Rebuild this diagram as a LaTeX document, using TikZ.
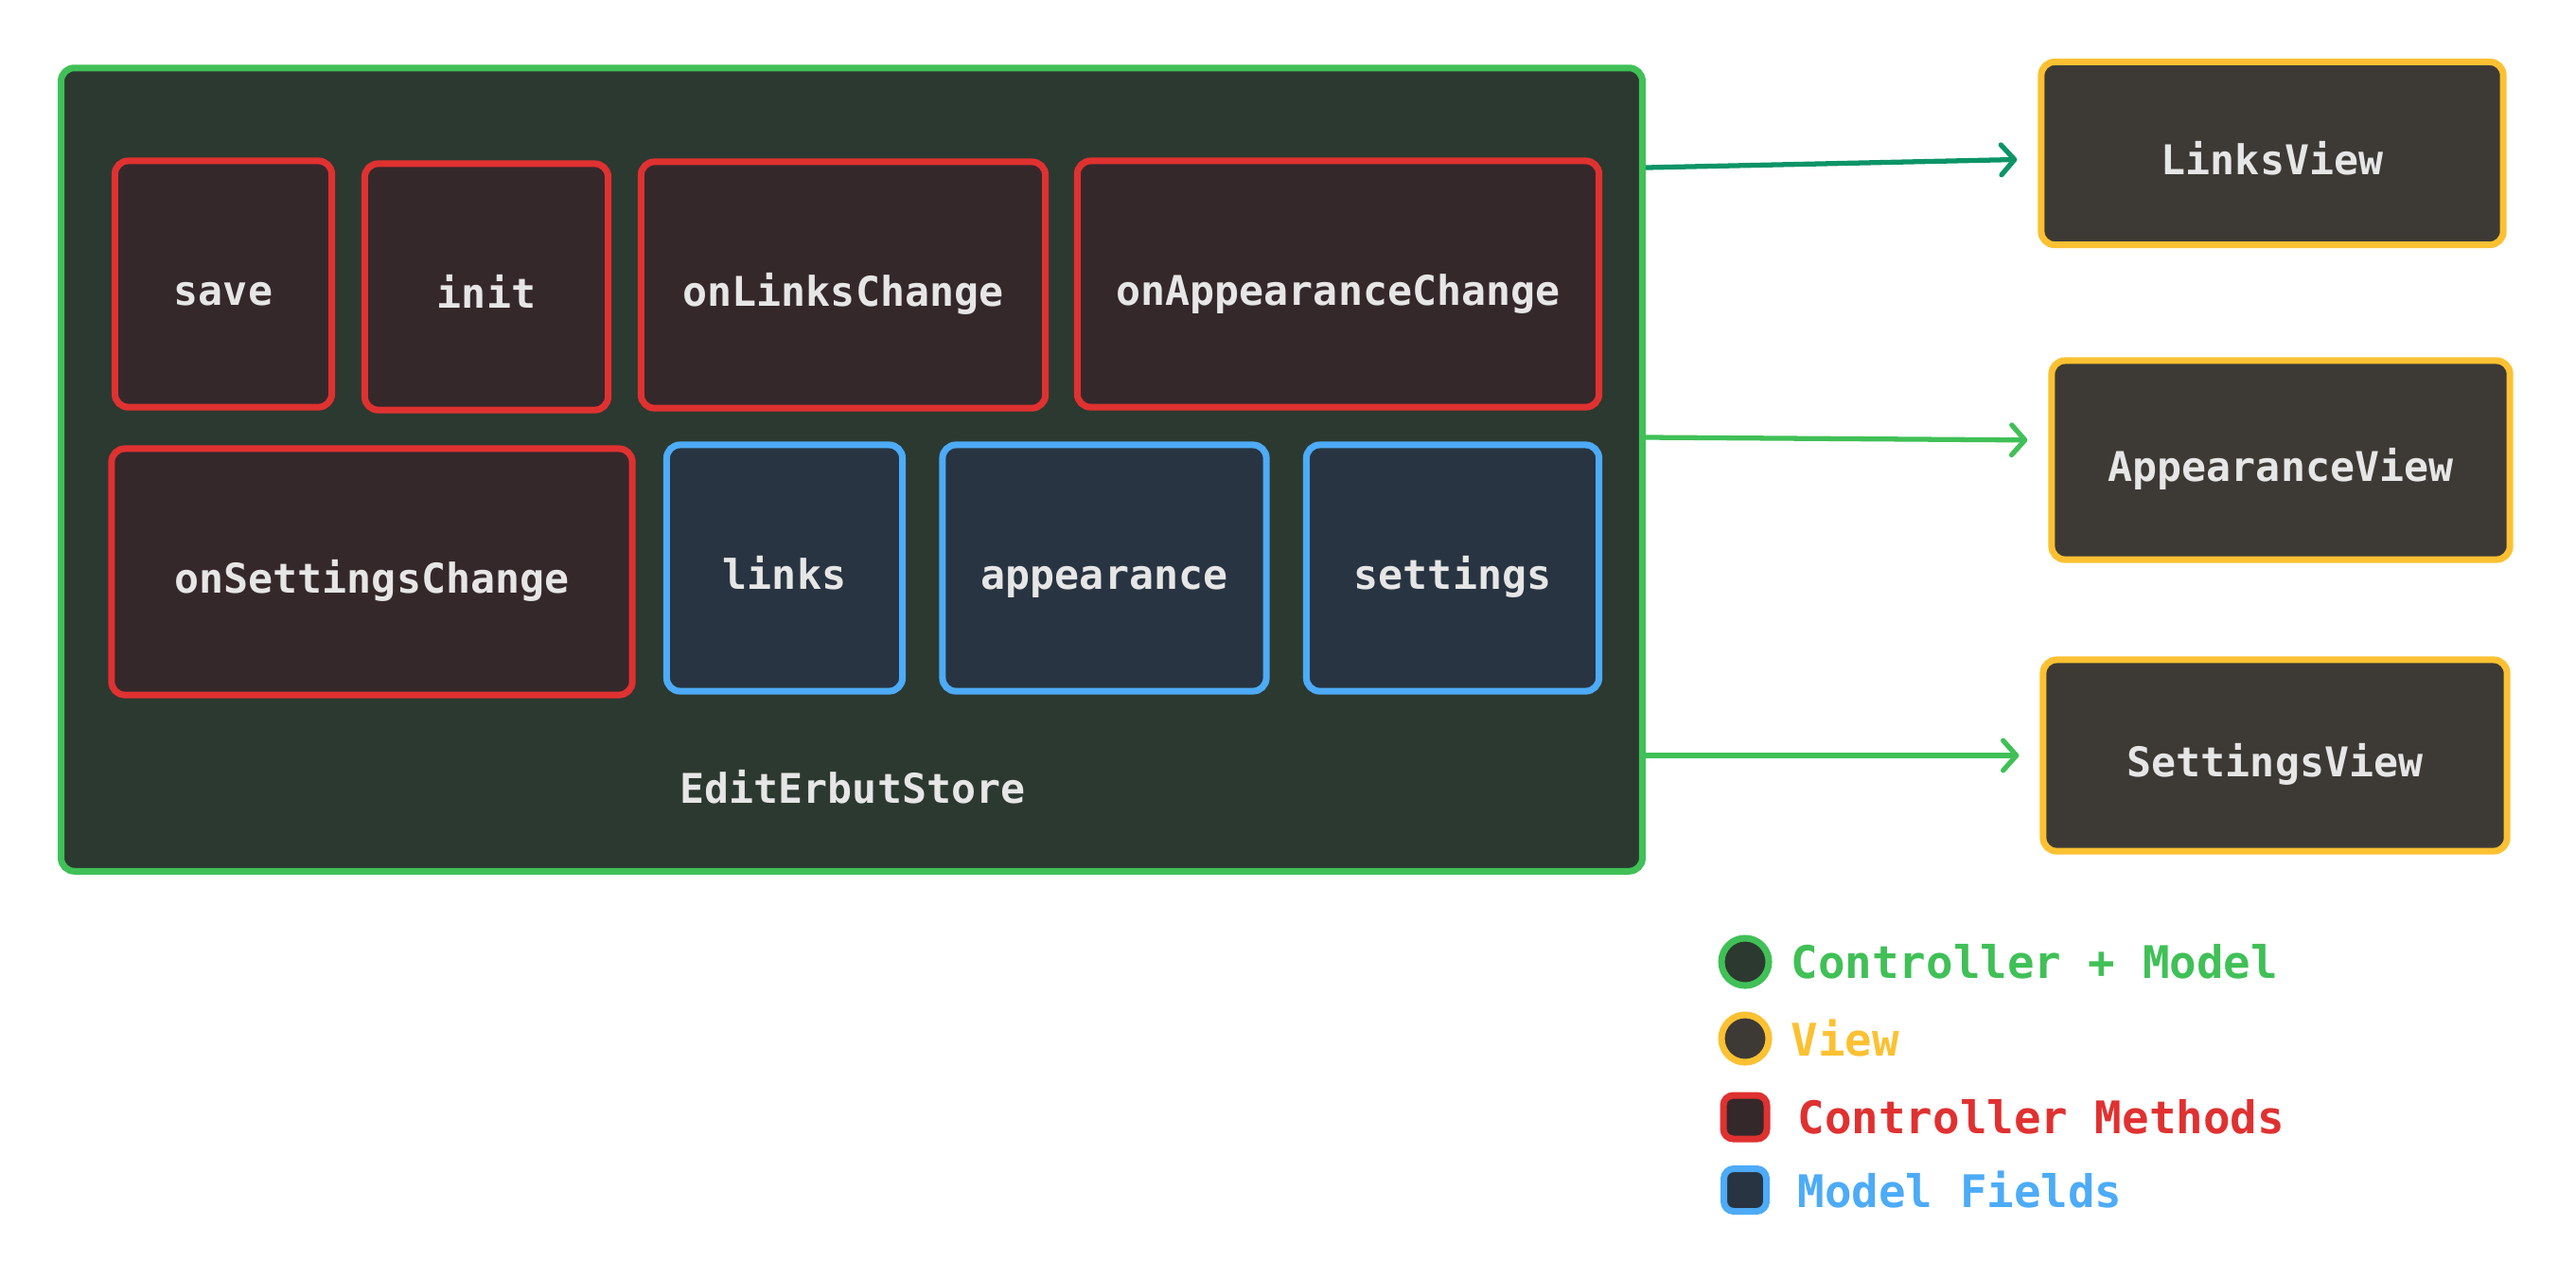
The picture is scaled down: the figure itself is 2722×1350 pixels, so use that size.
\documentclass[tikz,border=0pt]{standalone}
\usepackage{fontspec}
\setmonofont{DejaVu Sans Mono}
\usetikzlibrary{arrows.meta}
\definecolor{grn}{HTML}{40C057}
\definecolor{teal}{HTML}{0C9467}
\definecolor{ylw}{HTML}{FCC132}
\definecolor{rd}{HTML}{E03131}
\definecolor{blu}{HTML}{4DABF7}
\definecolor{storefill}{HTML}{2C3930}
\definecolor{viewfill}{HTML}{3D3A36}
\definecolor{methfill}{HTML}{35282B}
\definecolor{fieldfill}{HTML}{283441}
\definecolor{txt}{HTML}{E6E6E6}

\begin{document}
\begin{tikzpicture}[x=0.01cm,y=-0.01cm,line width=2pt]
        \tikzstyle{box}=[rectangle,rounded corners=4pt,inner sep=0pt,text=txt,text height=3.1ex,text depth=0.1ex,font=\ttfamily\bfseries\fontsize{12.3}{14}\selectfont]
        \tikzstyle{method}=[box,draw=rd,fill=methfill,minimum height=2.6cm]
        \tikzstyle{field}=[box,draw=blu,fill=fieldfill,minimum height=2.6cm]
        \tikzstyle{view}=[box,draw=ylw,fill=viewfill]
        \tikzstyle{conn}=[line width=1.5pt,-{Straight Barb[length=4pt,width=9pt,round]},shorten >=0.22cm]
        \tikzstyle{legtext}=[anchor=west,inner sep=0pt,font=\ttfamily\bfseries\fontsize{13.5}{15}\selectfont]
        \useasboundingbox (0,0) rectangle (2722,1350);

        % store
        \node[box,draw=grn,fill=storefill,minimum width=16.7cm,minimum height=8.48cm] (store) at (900,496) {};
        \node[box] (store-label) at (901,826) {EditErbutStore};

        \foreach \name/\txt/\x/\y/\w in {save/save/236/300/2.29, init/init/514/303/2.57, on-links/onLinksChange/891/301/4.27,
                on-appearance/onAppearanceChange/1414/300/5.51, on-settings/onSettingsChange/393/604/5.5}
                \node[method,minimum width=\w cm] (\name) at (\x,\y) {\txt};
        \foreach \name/\txt/\x/\w in {links/links/829/2.49, appearance/appearance/1167/3.42, settings/settings/1535/3.09}
                \node[field,minimum width=\w cm] (\name) at (\x,600) {\txt};

        % views
        \node[view,minimum width=4.88cm,minimum height=1.93cm] (links-view) at (2401,162) {LinksView};
        \node[view,minimum width=4.84cm,minimum height=2.1cm] (appearance-view) at (2410,486) {AppearanceView};
        \node[view,minimum width=4.9cm,minimum height=2.02cm] (settings-view) at (2404,798) {SettingsView};

        \draw[conn,teal] ([yshift=-0.15cm]store.east |- links-view.west) -- ([yshift=-0.06cm]links-view.west);
        \draw[conn,grn] ([yshift=0.24cm]store.east |- appearance-view.west) -- ([yshift=0.21cm]appearance-view.west);
        \draw[conn,grn] (store.east |- settings-view.west) -- (settings-view.west);

        % legend
        \node[circle,draw=grn,fill=storefill,minimum size=0.5cm,inner sep=0pt] (leg-store) at (1844,1016) {};
        \node[circle,draw=ylw,fill=viewfill,minimum size=0.5cm,inner sep=0pt] (leg-view) at (1844,1097) {};
        \node[rectangle,rounded corners=3pt,draw=rd,fill=methfill,minimum size=0.46cm,inner sep=0pt] (leg-method) at (1844,1180) {};
        \node[rectangle,rounded corners=3pt,draw=blu,fill=fieldfill,minimum size=0.45cm,inner sep=0pt] (leg-field) at (1844,1257) {};
        \node[legtext,text=grn] (leg-store-text) at (1889,1016) {Controller + Model};
        \node[legtext,text=ylw] (leg-view-text) at (1889,1097) {View};
        \node[legtext,text=rd] (leg-method-text) at (1896,1180) {Controller Methods};
        \node[legtext,text=blu] (leg-field-text) at (1896,1257) {Model Fields};
\end{tikzpicture}
\end{document}
